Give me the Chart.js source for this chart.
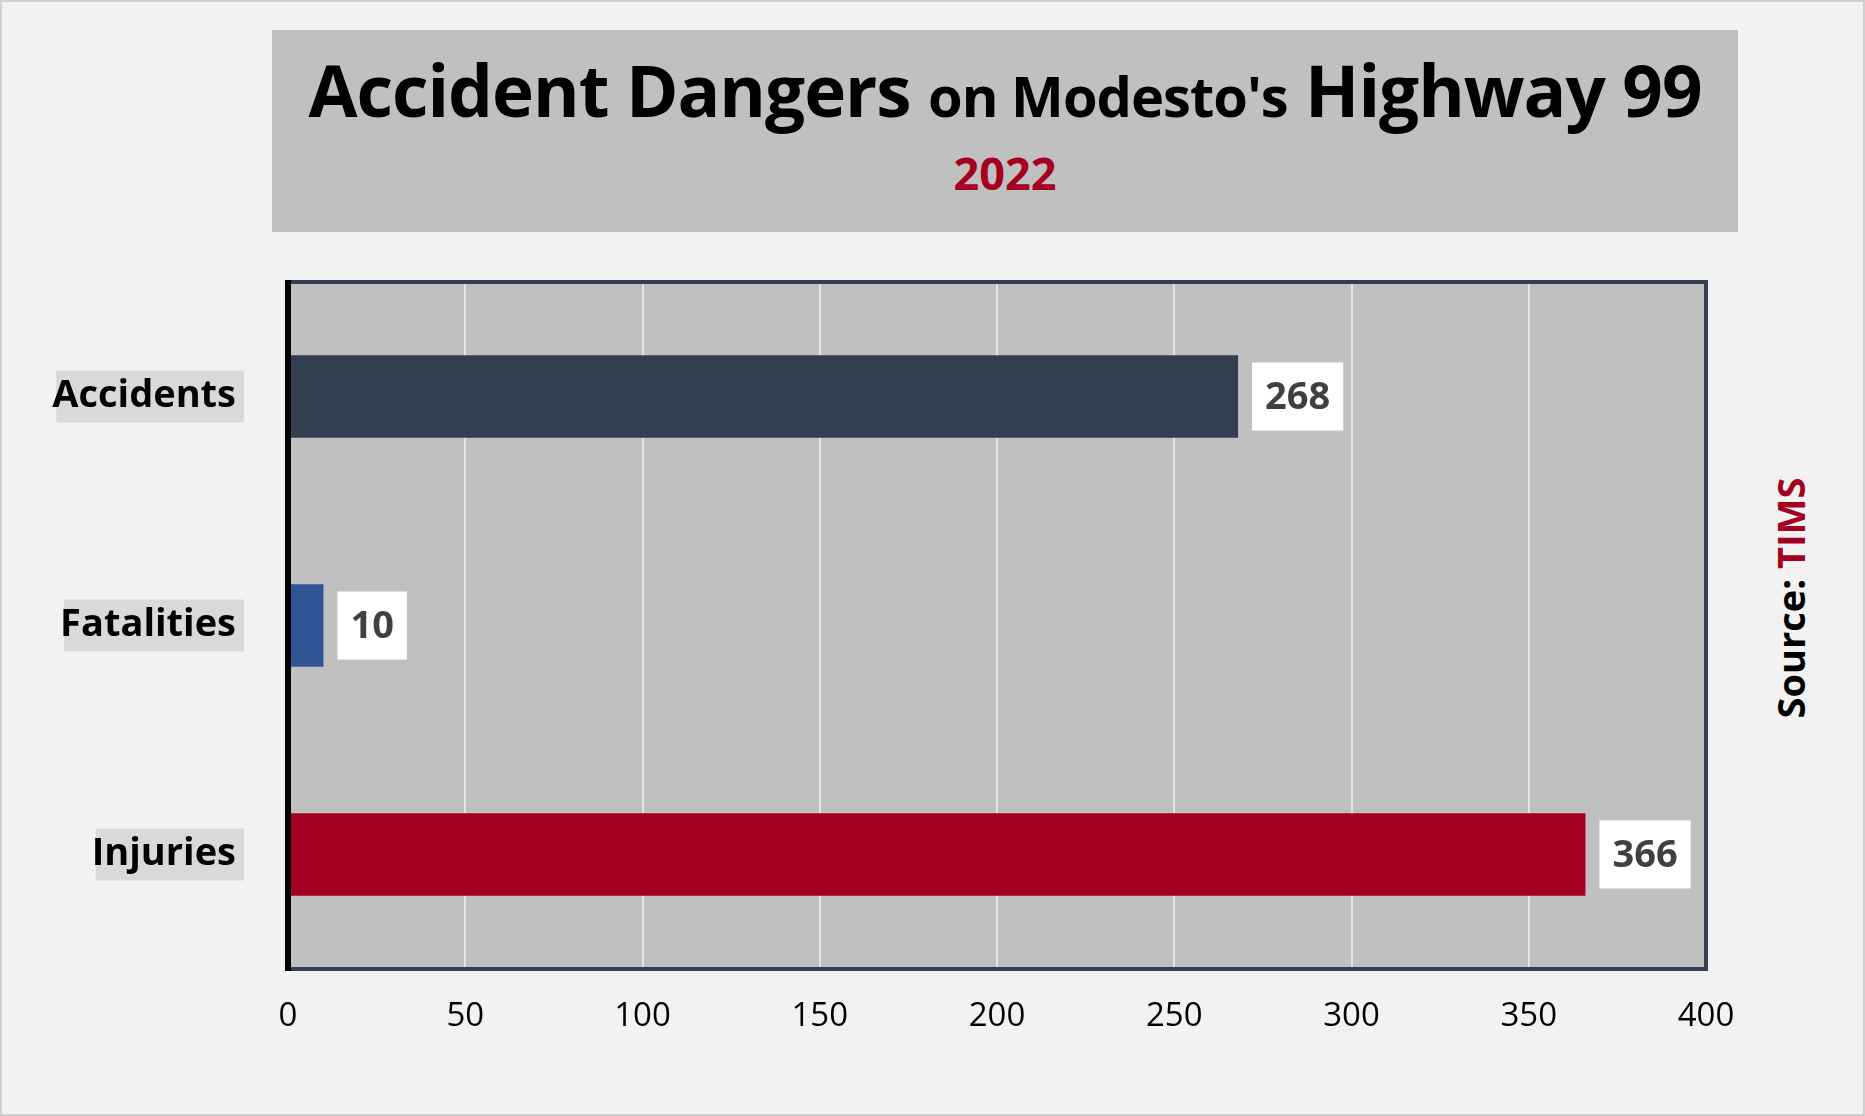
<!DOCTYPE html>
<html><head><meta charset="utf-8">
<script src="https://cdn.jsdelivr.net/npm/chart.js@4"></script>
<style>
html,body{margin:0;padding:0;}
body{width:1865px;height:1116px;background:#f2f2f2;position:relative;overflow:hidden;font-family:"Open Sans",sans-serif;}
#frame{position:absolute;left:0;top:0;width:1861px;height:1112px;border:2px solid #d0d0d0;}
#titleBox{position:absolute;left:272px;top:30px;width:1466px;height:202px;background:#c0c0c0;text-align:center;}
#t1{margin-top:14px;font-weight:bold;font-size:71px;color:#000;line-height:1.3;letter-spacing:-1px;}
#t1 .small{font-size:56px;}
#t2{font-weight:bold;font-size:45px;color:#a50021;margin-top:6px;}
#src{position:absolute;left:1790px;top:598px;transform:translate(-50%,-50%) rotate(-90deg);font-weight:bold;font-size:38px;white-space:nowrap;}
#src span{color:#a50021;}
canvas{position:absolute;left:0;top:0;}
</style></head><body>
<div id="frame"></div>
<div id="titleBox"><div id="t1">Accident Dangers <span class="small">on Modesto's</span> Highway 99</div><div id="t2">2022</div></div>
<div id="src">Source: <span>TIMS</span></div>
<canvas id="c" width="1865" height="1116"></canvas>
<script>
const categories = ["Accidents", "Fatalities", "Injuries"];
const values = [268, 10, 366];
const barColors = ["#333f50", "#2f5597", "#a50021"];
const xTicks = [0, 50, 100, 150, 200, 250, 300, 350, 400];

const decor = {
  id: "decor",
  beforeDraw(chart) {
    const { ctx, chartArea: a, scales } = chart;
    ctx.save();
    ctx.fillStyle = "#c0c0c0";
    ctx.fillRect(a.left, a.top, a.right - a.left, a.bottom - a.top);
    // label backgrounds
    ctx.font = "bold 38px 'Open Sans'";
    categories.forEach((c, i) => {
      const y = scales.y.getPixelForValue(i);
      const w = ctx.measureText(c).width;
      ctx.fillStyle = "#d9d9d9";
      ctx.fillRect(244 - w - 4, y - 26, w + 4, 52);
    });
    ctx.restore();
  },
  afterDraw(chart) {
    const { ctx, chartArea: a } = chart;
    ctx.save();
    ctx.strokeStyle = "#333f50";
    ctx.lineWidth = 4;
    ctx.strokeRect(a.left, a.top, a.right - a.left, a.bottom - a.top);
    ctx.strokeStyle = "#000";
    ctx.lineWidth = 6;
    ctx.beginPath(); ctx.moveTo(a.left, a.top - 2); ctx.lineTo(a.left, a.bottom + 2); ctx.stroke();
    // value labels
    const meta = chart.getDatasetMeta(0);
    ctx.font = "bold 38px 'Open Sans'";
    ctx.textBaseline = "middle";
    meta.data.forEach((bar, i) => {
      const txt = String(values[i]);
      const w = ctx.measureText(txt).width + 26;
      const x = bar.x + 14;
      ctx.fillStyle = "#fff";
      ctx.fillRect(x, bar.y - 34, w, 68);
      ctx.fillStyle = "#404040";
      ctx.textAlign = "center";
      ctx.fillText(txt, x + w / 2, bar.y + 2);
    });
    ctx.restore();
  }
};

new Chart(document.getElementById("c"), {
  type: "bar",
  data: { labels: categories, datasets: [{ data: values, backgroundColor: barColors, barPercentage: 0.36, categoryPercentage: 1 }] },
  options: {
    indexAxis: "y", responsive: false, animation: false,
    layout: { padding: { left: 0, right: 159, top: 282, bottom: 67 } },
    plugins: { legend: { display: false }, tooltip: { enabled: false } },
    scales: {
      x: {
        min: 0, max: 400,
        afterBuildTicks: s => { s.ticks = xTicks.map(v => ({ value: v })); },
        grid: { color: "#e4e4e4", lineWidth: 2, drawTicks: false },
        border: { display: false },
        ticks: { color: "#000", font: { size: 33, family: "'Open Sans'" }, padding: 28 },
        afterFit: s => { s.height = 80; }
      },
      y: {
        grid: { display: false }, border: { display: false },
        ticks: { color: "#000", font: { size: 38, weight: "bold", family: "'Open Sans'" }, padding: 44 },
        afterFit: s => { s.width = 288; }
      }
    }
  },
  plugins: [decor]
});
</script>
</body></html>
